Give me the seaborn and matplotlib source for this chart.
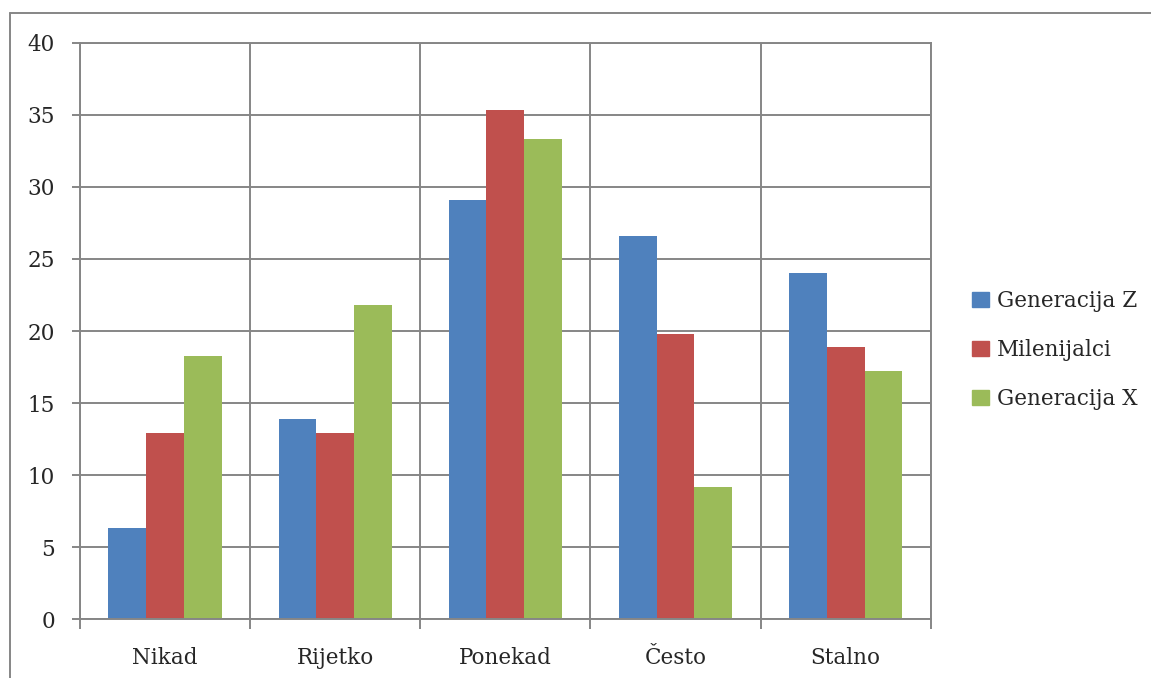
import pandas as pd
import matplotlib
matplotlib.use("Agg")
import matplotlib.pyplot as plt
import seaborn as sns
from matplotlib.lines import Line2D

categories = ["Nikad", "Rijetko", "Ponekad", "Često", "Stalno"]
series = ["Generacija Z", "Milenijalci", "Generacija X"]
gen_z = [6.3, 13.9, 29.1, 26.6, 24.0]
milenijalci = [12.9, 12.9, 35.3, 19.8, 18.9]
gen_x = [18.3, 21.8, 33.3, 9.2, 17.2]
colors = ["#4F81BD", "#C0504D", "#9BBB59"]

rows = []
for name, vals in zip(series, [gen_z, milenijalci, gen_x]):
    for cat, v in zip(categories, vals):
        rows.append({"kategorija": cat, "serija": name, "vrijednost": v})
df = pd.DataFrame(rows)

sns.set_style("white")
plt.rcParams["font.family"] = ["DejaVu Serif"]
grid_c = "#868686"

fig = plt.figure(figsize=(11.51, 6.78), dpi=100)
ax = fig.add_axes([80 / 1151, (678 - 619.3) / 678, (930.7 - 80) / 1151, (619.3 - 42.7) / 678])

sns.barplot(data=df, x="kategorija", y="vrijednost", hue="serija",
            palette=colors, width=0.666, gap=0, saturation=1,
            edgecolor="none", ax=ax, legend=False)

ax.set_ylim(0, 40)
ax.set_xlim(-0.5, 4.5)
ax.set_yticks(range(0, 41, 5))
ax.set_xticks(range(5))
ax.set_xticklabels(categories)
ax.set_xticks([i - 0.5 for i in range(6)], minor=True)
ax.set_xlabel("")
ax.set_ylabel("")

ax.grid(True, axis="y", which="major", color=grid_c, linewidth=1.4)
ax.grid(True, axis="x", which="minor", color=grid_c, linewidth=1.4)
ax.set_axisbelow(True)
for s in ax.spines.values():
    s.set_color(grid_c)
    s.set_linewidth(1.4)

ax.tick_params(axis="y", which="major", length=6, width=1.4, color=grid_c,
               pad=12, labelsize=15.5, left=True)
ax.tick_params(axis="x", which="major", length=0, pad=20, labelsize=15.5)
ax.tick_params(axis="x", which="minor", length=7, width=1.4, color=grid_c,
               bottom=True)

handles = [plt.Rectangle((0, 0), 1, 1, color=c) for c in colors]
fig.legend(handles, series, loc="center left", bbox_to_anchor=(953 / 1151, (678 - 350) / 678),
           frameon=False, fontsize=15.5, handlelength=0.75, handleheight=0.75,
           handletextpad=0.4, labelspacing=1.25)

fig.add_artist(Line2D([9.5 / 1151, 9.5 / 1151], [0, (678 - 13) / 678], color=grid_c, linewidth=1.4))
fig.add_artist(Line2D([9.5 / 1151, 1], [(678 - 13) / 678, (678 - 13) / 678], color=grid_c, linewidth=1.4))

fig.savefig("out.png", dpi=100)
